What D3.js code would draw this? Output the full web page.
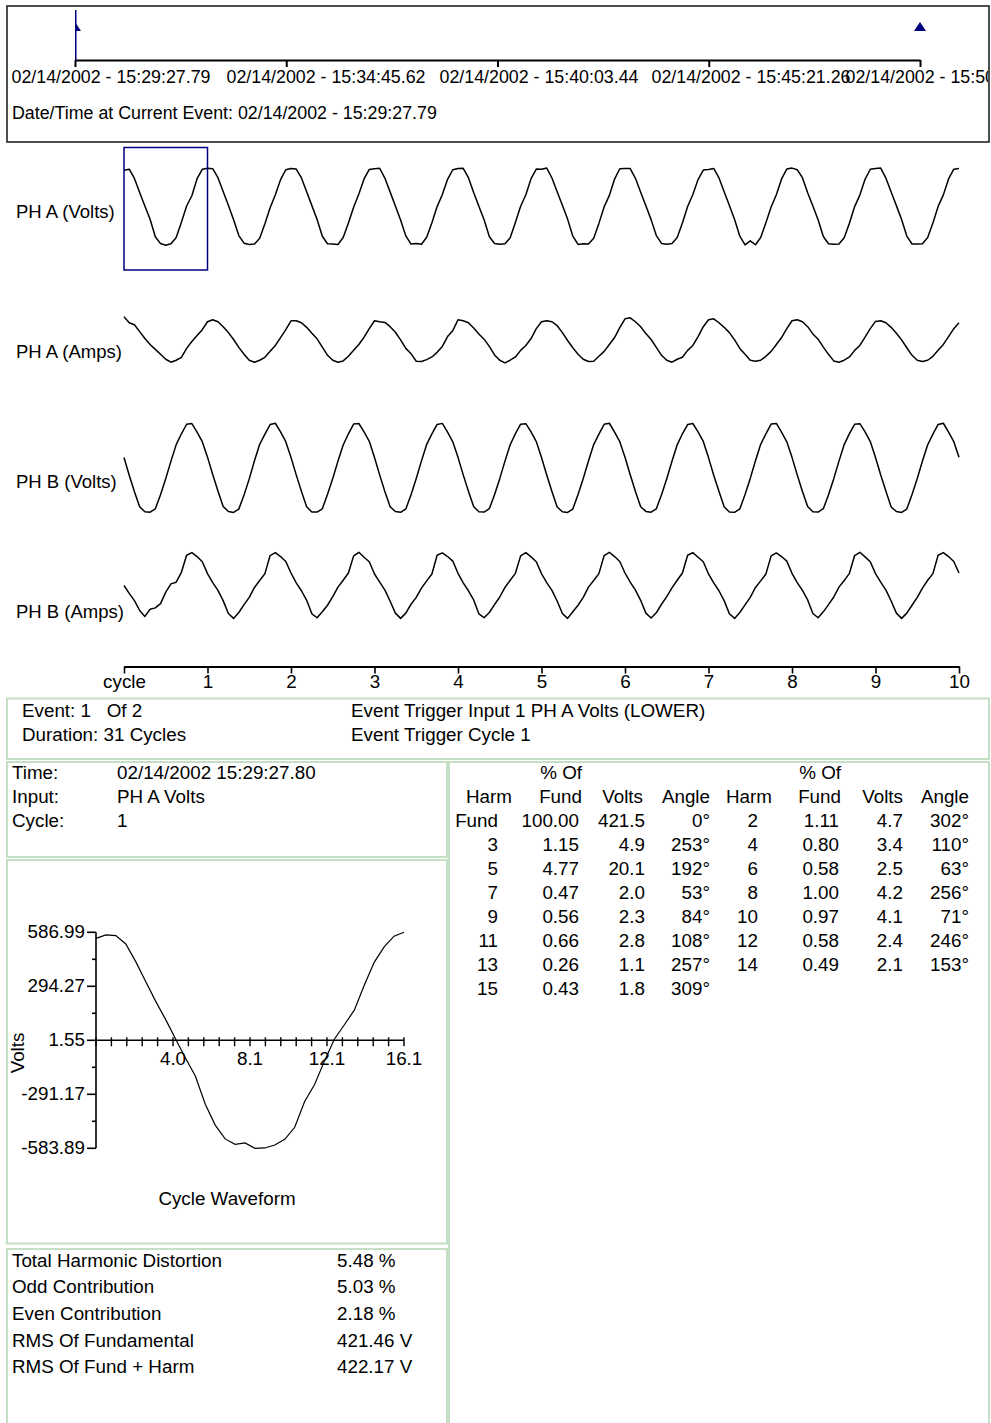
<!DOCTYPE html>
<html>
<head>
<meta charset="utf-8">
<script src="https://cdn.jsdelivr.net/npm/d3@7"></script>
<style>
  body { margin: 0; background: #fff; }
  svg text { font-family: "Liberation Sans", Arial, sans-serif; font-size: 17.5px; fill: #000; white-space: pre; }
</style>
</head>
<body>
<svg id="chart" width="991" height="1423"></svg>
<script>
// ---------- event timeline ----------
const timeTickSeconds = [0, 317.83, 635.65, 953.48, 1271.30];
const timeTickLabels = [
  "02/14/2002 - 15:29:27.79", "02/14/2002 - 15:34:45.62", "02/14/2002 - 15:40:03.44",
  "02/14/2002 - 15:45:21.26", "02/14/2002 - 15:50:39.09"
];
const eventSeconds = [0, 1271.30];
const currentEventText = "Date/Time at Current Event: 02/14/2002 - 15:29:27.79";

// ---------- waveform capture (16 samples per cycle, 10 cycles) ----------
const cycleLabels = ["cycle", "1", "2", "3", "4", "5", "6", "7", "8", "9", "10"];
const samplesPerCycle = 16;

const phaVolts = [
  554, 569, 428, 214, 10, -192, -458, -562, -587, -566, -470, -238, 9, 165, 424, 566,
  582, 576, 440, 230, 22, -200, -440, -556, -575, -570, -482, -262, -18, 180, 410, 560,
  580, 570, 435, 225, 15, -195, -450, -565, -568, -575, -470, -250, -10, 190, 420, 565,
  575, 583, 430, 220, 10, -205, -445, -570, -562, -572, -465, -245, 0, 185, 415, 560,
  580, 582, 440, 215, 5, -200, -455, -560, -572, -565, -475, -240, 5, 180, 425, 570,
  568, 585, 435, 225, 20, -190, -450, -575, -565, -570, -480, -255, -5, 170, 418, 575,
  580, 578, 430, 218, 12, -198, -440, -560, -572, -560, -470, -250, 2, 185, 410, 555,
  565, 580, 438, 225, 18, -195, -450, -582, -520, -580, -470, -245, -5, 180, 420, 570,
  585, 560, 440, 210, 10, -200, -455, -565, -572, -568, -475, -252, 0, 175, 415, 568,
  580, 586, 432, 222, 15, -195, -448, -568, -570, -565, -470, -248, 3, 178, 420, 568,
  580
];
const phaAmps = [
  72, 54, 48, 27, 6, -12, -27, -42, -57, -66, -60, -51, -24, -3, 15, 33,
  57, 63, 57, 42, 24, 3, -21, -42, -60, -66, -60, -51, -33, -15, 9, 33,
  60, 60, 54, 40, 22, 5, -20, -45, -60, -66, -62, -48, -30, -12, 10, 36,
  60, 57, 55, 42, 25, 2, -24, -40, -63, -64, -58, -50, -36, -18, 12, 30,
  63, 60, 54, 38, 20, 4, -18, -44, -60, -68, -60, -50, -30, -15, 6, 36,
  57, 60, 57, 45, 24, 0, -22, -42, -57, -64, -63, -48, -33, -12, 9, 39,
  66, 69, 57, 42, 21, 3, -21, -45, -60, -66, -57, -51, -30, -15, 12, 42,
  63, 66, 54, 40, 24, 2, -24, -42, -60, -63, -60, -48, -33, -12, 9, 36,
  60, 63, 57, 42, 20, 4, -20, -42, -62, -66, -60, -50, -30, -15, 10, 36,
  58, 60, 54, 40, 22, 2, -22, -45, -60, -64, -60, -48, -30, -12, 12, 36,
  54
];
const phbVolts = [
  160, -110, -360, -590, -665, -672, -620, -405, -160, 105, 355, 520, 665, 675, 545, 400,
  165, -100, -350, -585, -660, -676, -625, -410, -165, 110, 360, 515, 660, 680, 550, 400,
  160, -105, -355, -590, -668, -670, -620, -400, -160, 105, 350, 520, 668, 676, 548, 405,
  158, -108, -360, -588, -662, -674, -622, -405, -158, 108, 358, 518, 662, 678, 545, 398,
  162, -104, -352, -586, -666, -670, -618, -408, -162, 104, 354, 522, 666, 674, 550, 402,
  160, -106, -358, -592, -664, -676, -624, -402, -160, 106, 356, 516, 664, 680, 546, 400,
  164, -102, -356, -588, -660, -672, -620, -406, -164, 102, 352, 520, 660, 676, 548, 404,
  158, -110, -354, -590, -668, -674, -622, -404, -158, 110, 360, 518, 668, 678, 544, 398,
  162, -104, -358, -586, -664, -670, -618, -408, -162, 104, 356, 522, 664, 674, 550, 402,
  160, -106, -352, -592, -662, -676, -624, -402, -160, 106, 354, 516, 662, 680, 546, 400,
  162
];
const phbAmps = [
  0, -24, -46, -76, -94, -72, -68, -55, -20, 5, 10, 40, 92, 100, 88, 72,
  36, 9, -15, -46, -85, -100, -82, -58, -36, -6, 15, 36, 91, 100, 88, 73,
  38, 8, -16, -45, -86, -98, -80, -60, -34, -5, 16, 38, 90, 101, 86, 72,
  35, 10, -14, -48, -84, -100, -84, -57, -36, -8, 14, 35, 92, 99, 88, 74,
  37, 8, -16, -44, -86, -98, -82, -58, -35, -6, 16, 37, 90, 100, 87, 72,
  36, 9, -15, -47, -85, -100, -80, -60, -36, -5, 15, 36, 91, 101, 88, 73,
  38, 10, -14, -45, -84, -99, -83, -57, -34, -7, 16, 38, 92, 100, 86, 72,
  35, 8, -16, -46, -86, -100, -82, -59, -36, -6, 14, 35, 90, 99, 88, 74,
  37, 9, -15, -44, -85, -98, -80, -58, -35, -5, 15, 37, 91, 101, 87, 72,
  36, 10, -14, -47, -84, -100, -84, -60, -36, -8, 16, 36, 92, 100, 88, 73,
  38
];

// ---------- event details ----------
const eventInfoLeft = ["Event: 1   Of 2", "Duration: 31 Cycles"];
const eventInfoRight = ["Event Trigger Input 1 PH A Volts (LOWER)", "Event Trigger Cycle 1"];
const cycleInfoLabels = ["Time:", "Input:", "Cycle:"];
const cycleInfoValues = ["02/14/2002 15:29:27.80", "PH A Volts", "1"];

// ---------- selected cycle (32 samples, ms / volts) ----------
const cycleSampleMs = 0.52;
const cycleVolts = [
  554, 573, 569, 524, 428, 320, 214, 115, 10, -94, -192, -345, -458, -533, -562, -555,
  -583.89, -582, -566, -535, -470, -330, -238, -110, 9, 86, 165, 300, 424, 508, 566, 586.99
];

// ---------- harmonic analysis ----------
const harmNames = ["Fund", "2", "3", "4", "5", "6", "7", "8", "9", "10", "11", "12", "13", "14", "15"];
const harmPctFund = [100.00, 1.11, 1.15, 0.80, 4.77, 0.58, 0.47, 1.00, 0.56, 0.97, 0.66, 0.58, 0.26, 0.49, 0.43];
const harmVolts = [421.5, 4.7, 4.9, 3.4, 20.1, 2.5, 2.0, 4.2, 2.3, 4.1, 2.8, 2.4, 1.1, 2.1, 1.8];
const harmAngle = [0, 302, 253, 110, 192, 63, 53, 256, 84, 71, 108, 246, 257, 153, 309];

const summaryLabels = ["Total Harmonic Distortion", "Odd Contribution", "Even Contribution", "RMS Of Fundamental", "RMS Of Fund + Harm"];
const summaryValues = [5.48, 5.03, 2.18, 421.46, 422.17];
const summaryUnits = ["%", "%", "%", "V", "V"];

// =====================================================================
const svg = d3.select("#chart");
const NAVY = "#00007f";
const GREEN = "#c4dfc4";
const BASE_PX = 17.5;

// stretch each text's advance to the width of the given nominal size
function fitText(sel, px) {
  sel.each(function () {
    if (!this.textContent.trim()) return;
    const natural = this.getComputedTextLength();
    d3.select(this).attr("textLength", natural * px / BASE_PX).attr("lengthAdjust", "spacingAndGlyphs");
  });
}

// ---------- timeline box ----------
svg.append("rect").attr("x", 7).attr("y", 6).attr("width", 982).attr("height", 136)
  .attr("fill", "none").attr("stroke", "#222").attr("stroke-width", 1.6);

const defs = svg.append("defs");
defs.append("clipPath").attr("id", "boxClip").append("rect")
  .attr("x", 8).attr("y", 7).attr("width", 980).attr("height", 134);
defs.append("clipPath").attr("id", "markClip").append("rect")
  .attr("x", 75).attr("y", 7).attr("width", 913).attr("height", 134);

const tl = d3.scaleLinear().domain([eventSeconds[0], eventSeconds[1]]).range([75, 920]);
const labelStart = [11, 226, 439, 651, 845];
const tlAxis = svg.append("g").attr("clip-path", "url(#boxClip)")
  .append("g").attr("transform", "translate(0,60)")
  .call(d3.axisBottom(tl).tickValues(timeTickSeconds)
    .tickFormat((d, i) => timeTickLabels[i]).tickSize(7).tickSizeOuter(0));
tlAxis.attr("font-family", null).attr("font-size", null);
tlAxis.select(".domain").attr("stroke", "#000").attr("stroke-width", 2);
tlAxis.selectAll(".tick line").attr("stroke", "#000").attr("stroke-width", 2);
const tlText = tlAxis.selectAll(".tick text")
  .attr("text-anchor", "start")
  .attr("x", (d, i) => labelStart[i] - tl(d))
  .attr("y", 23).attr("dy", null).attr("fill", "#000").classed("fixed", true);

const currentText = svg.append("text").attr("x", 12).attr("y", 119).classed("fixed", true).text(currentEventText);

const marks = svg.append("g").attr("clip-path", "url(#markClip)");
eventSeconds.forEach(s => {
  const x = tl(s);
  marks.append("path").attr("d", `M${x - 6},31L${x + 6},31L${x},22Z`).attr("fill", NAVY);
});
marks.append("line").attr("x1", tl(eventSeconds[0]) + 0.5).attr("x2", tl(eventSeconds[0]) + 0.5)
  .attr("y1", 10).attr("y2", 60).attr("stroke", NAVY).attr("stroke-width", 2);

// ---------- waveform rows ----------
const xc = d3.scaleLinear().domain([0, 10]).range([124, 959]);
const rows = [
  { label: "PH A (Volts)", values: phaVolts, fullScale: 1000, center: 206.6, labelY: 217.5 },
  { label: "PH A (Amps)",  values: phaAmps,  fullScale: 200,  center: 340.5, labelY: 357.5 },
  { label: "PH B (Volts)", values: phbVolts, fullScale: 1000, center: 468,   labelY: 487.5 },
  { label: "PH B (Amps)",  values: phbAmps,  fullScale: 200,  center: 585.5, labelY: 617.5 }
];
const rowLabels = [];
rows.forEach(r => {
  const y = d3.scaleLinear().domain([-r.fullScale, r.fullScale]).range([r.center + 65.8, r.center - 65.8]);
  const line = d3.line().x((d, i) => xc(i / samplesPerCycle)).y(d => y(d));
  svg.append("path").datum(r.values).attr("d", line)
    .attr("fill", "none").attr("stroke", "#000").attr("stroke-width", 1.5).attr("stroke-linejoin", "round");
  rowLabels.push(svg.append("text").attr("x", 16).attr("y", r.labelY).classed("fixed", true).text(r.label).node());
});

// selected-cycle frame
svg.append("rect").attr("x", xc(0)).attr("y", 147.5).attr("width", xc(1) - xc(0)).attr("height", 122.5)
  .attr("fill", "none").attr("stroke", NAVY).attr("stroke-width", 1.5);

const cAxis = svg.append("g").attr("transform", "translate(0,666.5)")
  .call(d3.axisBottom(xc).tickValues(d3.range(11)).tickFormat(i => cycleLabels[i])
    .tickSize(7).tickSizeOuter(0).tickPadding(2));
cAxis.attr("font-family", null).attr("font-size", null);
cAxis.select(".domain").attr("stroke", "#000").attr("stroke-width", 2);
cAxis.selectAll(".tick line").attr("stroke", "#000").attr("stroke-width", 1.6);
cAxis.selectAll(".tick text").attr("fill", "#000");

// ---------- panels ----------
const panel = (x, y, w, h) => svg.append("rect").attr("x", x).attr("y", y).attr("width", w).attr("height", h)
  .attr("fill", "none").attr("stroke", GREEN).attr("stroke-width", 2);
panel(7, 698.5, 982, 60.5);
panel(7, 762, 440, 95);
panel(7, 860, 440, 383.5);
panel(7, 1249, 440, 220);
panel(449, 762, 540, 700);

eventInfoLeft.forEach((t, i) => svg.append("text").attr("x", 22).attr("y", 717 + i * 24).text(t));
eventInfoRight.forEach((t, i) => svg.append("text").attr("x", 351).attr("y", 717 + i * 24).text(t));

cycleInfoLabels.forEach((t, i) => svg.append("text").attr("x", 12).attr("y", 778.5 + i * 24).text(t));
cycleInfoValues.forEach((t, i) => svg.append("text").attr("x", 117).attr("y", 778.5 + i * 24).text(t));

// ---------- selected cycle chart ----------
const cx = d3.scaleLinear().domain([0, (cycleVolts.length - 1) * cycleSampleMs]).range([96, 404]);
const [vMin, vMax] = d3.extent(cycleVolts);
const cy = d3.scaleLinear().domain([vMin, vMax]).range([1148.3, 932.3]);
const yMajor = d3.range(5).map(i => vMin + i * (vMax - vMin) / 4);
const yMinor = d3.range(4).map(i => vMin + (i + 0.5) * (vMax - vMin) / 4);
const xTicks = d3.range(21).map(i => i * cx.domain()[1] / 20);
const axisY0 = cy(yMajor[2]);

const cg = svg.append("g");
cg.append("line").attr("x1", 96).attr("x2", 96).attr("y1", cy(vMax)).attr("y2", cy(vMin))
  .attr("stroke", "#000").attr("stroke-width", 1.6);
cg.append("line").attr("x1", 96).attr("x2", cx(cx.domain()[1])).attr("y1", axisY0).attr("y2", axisY0)
  .attr("stroke", "#000").attr("stroke-width", 1.6);
yMajor.forEach(v => {
  cg.append("line").attr("x1", 87).attr("x2", 96).attr("y1", cy(v)).attr("y2", cy(v)).attr("stroke", "#000").attr("stroke-width", 1.6);
  cg.append("text").attr("x", 85).attr("y", cy(v)).attr("dy", "0.35em").attr("text-anchor", "end").text(v.toFixed(2));
});
yMinor.forEach(v => {
  cg.append("line").attr("x1", 92).attr("x2", 96).attr("y1", cy(v)).attr("y2", cy(v)).attr("stroke", "#000").attr("stroke-width", 1.6);
});
xTicks.forEach((t, i) => {
  cg.append("line").attr("x1", cx(t)).attr("x2", cx(t)).attr("y1", axisY0 - 3).attr("y2", axisY0 + 6)
    .attr("stroke", "#000").attr("stroke-width", 1.4);
  if (i > 0 && i % 5 === 0) {
    cg.append("text").attr("x", cx(t)).attr("y", axisY0 + 25).attr("text-anchor", "middle").text(t.toFixed(1));
  }
});
cg.append("text").attr("transform", `translate(24,1053) rotate(-90)`).attr("text-anchor", "middle").text("Volts");
cg.append("path").datum(cycleVolts)
  .attr("d", d3.line().x((d, i) => cx(i * cycleSampleMs)).y(d => cy(d)))
  .attr("fill", "none").attr("stroke", "#000").attr("stroke-width", 1.2);
cg.append("text").attr("x", 227).attr("y", 1205).attr("text-anchor", "middle").text("Cycle Waveform");

// ---------- summary ----------
summaryLabels.forEach((t, i) => {
  svg.append("text").attr("x", 12).attr("y", 1266.5 + i * 26.7).text(t);
  svg.append("text").attr("x", 337).attr("y", 1266.5 + i * 26.7).text(summaryValues[i].toFixed(2) + " " + summaryUnits[i]);
});

// ---------- harmonic table ----------
const blocks = [
  { right: [498, 579, 645, 710], headRight: [512, 582, 643, 710], start: 0 },
  { right: [758, 839, 903, 969], headRight: [772, 841, 903, 969], start: 1 }
];
const rowY0 = 778.5, rowStep = 24;
blocks.forEach(b => {
  const th = (x, row, t) => svg.append("text").attr("x", x).attr("y", rowY0 + row * rowStep).attr("text-anchor", "end").text(t);
  th(b.headRight[1], 0, "% Of");
  th(b.headRight[0], 1, "Harm");
  th(b.headRight[1], 1, "Fund");
  th(b.headRight[2], 1, "Volts");
  th(b.headRight[3], 1, "Angle");
  let row = 2;
  for (let h = b.start; h < harmNames.length; h += 2) {
    th(b.right[0], row, harmNames[h]);
    th(b.right[1], row, harmPctFund[h].toFixed(2));
    th(b.right[2], row, harmVolts[h].toFixed(1));
    th(b.right[3], row, harmAngle[h] + "°");
    row++;
  }
});

// advance widths: report body text is set wide, the timeline box slightly narrower
fitText(svg.selectAll("text:not(.fixed)"), 18.8);
fitText(d3.selectAll(rowLabels), 18.5);
fitText(currentText, 17.8);
fitText(tlText, 17.8);
</script>
</body>
</html>
